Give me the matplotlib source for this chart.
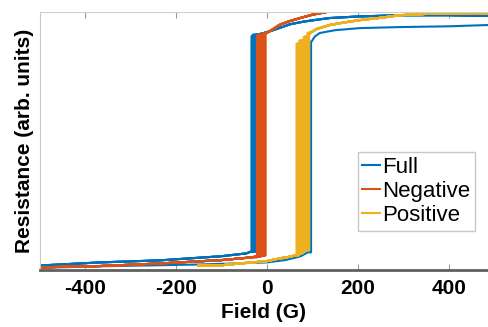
import matplotlib
matplotlib.use("Agg")
import matplotlib.pyplot as plt

plt.rcParams["font.family"] = ["Liberation Sans", "DejaVu Sans"]
plt.rcParams["axes.unicode_minus"] = False

BLUE = "#0072BD"
RED = "#D95319"
YELLOW = "#EDB120"

# Full loop (two lower and two upper branches, field in G, resistance normalised)
full_lo_down_x = [-500, -367, -235, -100, -45, -37, -24]
full_lo_down_y = [0.019, 0.031, 0.039, 0.055, 0.066, 0.072, 0.075]
full_hi_down_x = [-40, -36, -32, -20, -5, 10, 30, 51, 80, 116, 138, 200, 292, 400, 486]
full_hi_down_y = [0.898, 0.902, 0.907, 0.913, 0.920, 0.928, 0.940, 0.953, 0.963, 0.972, 0.977, 0.983, 0.988, 0.988, 0.985]
full_lo_up_x = [-500, -367, -147, 0, 40, 73, 90, 100]
full_lo_up_y = [0.010, 0.016, 0.023, 0.031, 0.040, 0.054, 0.070, 0.075]
full_hi_up_x = [90, 98, 105, 116, 150, 204, 292, 400, 486]
full_hi_up_y = [0.880, 0.886, 0.905, 0.919, 0.930, 0.938, 0.942, 0.945, 0.950]
full_switch_down = [-34, -31, -28, -25]
full_switch_up = [97]

# Negative minor loop
neg_lo_x = [-500, -367, -235, -100, -37, -22, -12, -5, 0]
neg_lo_y = [0.012, 0.017, 0.027, 0.040, 0.050, 0.054, 0.056, 0.058, 0.060]
neg_hi_x = [-25, -20, -10, -2, 10, 29, 50, 73, 100, 130]
neg_hi_y = [0.905, 0.908, 0.912, 0.918, 0.930, 0.952, 0.965, 0.977, 0.990, 1.000]
neg_switch = [-22, -20, -18, -16, -14, -12, -10, -8, -6, -4, -3]

# Positive minor loop
pos_lo_x = [-150, -100, -59, 0, 29, 50, 62, 72, 79, 85, 95]
pos_lo_y = [0.018, 0.020, 0.027, 0.036, 0.047, 0.053, 0.058, 0.066, 0.074, 0.080, 0.085]
pos_hi_x = [60, 64, 70, 80, 88, 95, 110, 138, 170, 204, 250, 292, 350, 400, 486]
pos_hi_y = [0.860, 0.870, 0.878, 0.890, 0.905, 0.920, 0.935, 0.950, 0.960, 0.969, 0.978, 0.988, 0.993, 0.995, 0.996]
pos_switch = [65, 67, 69, 71, 73, 75, 77, 79, 81, 83, 85, 87, 89, 91, 93]


def step_path(lo_x, lo_y, hi_x, hi_y, xs):
    # lower branch left of the switching field, upper branch right of it
    lx = [x for x in lo_x if x < xs]
    ly = [y for x, y in zip(lo_x, lo_y) if x < xs]
    hx = [x for x in hi_x if x > xs]
    hy = [y for x, y in zip(hi_x, hi_y) if x > xs]
    return lx + [xs, xs] + hx, ly + [ly[-1], hy[0]] + hy


fig = plt.figure(figsize=(4.88, 3.27), dpi=100)
ax = fig.add_axes([0.081, 0.173, 0.919, 0.790])

first = True
for xs in full_switch_down:
    px, py = step_path(full_lo_down_x, full_lo_down_y, full_hi_down_x, full_hi_down_y, xs)
    ax.plot(px, py, color=BLUE, lw=1.5, label="Full" if first else None)
    first = False
for xs in full_switch_up:
    px, py = step_path(full_lo_up_x, full_lo_up_y, full_hi_up_x, full_hi_up_y, xs)
    ax.plot(px, py, color=BLUE, lw=1.5)

first = True
for xs in neg_switch:
    px, py = step_path(neg_lo_x, neg_lo_y, neg_hi_x, neg_hi_y, xs)
    ax.plot(px, py, color=RED, lw=1.5, label="Negative" if first else None)
    first = False

first = True
for xs in pos_switch:
    px, py = step_path(pos_lo_x, pos_lo_y, pos_hi_x, pos_hi_y, xs)
    ax.plot(px, py, color=YELLOW, lw=1.5, label="Positive" if first else None)
    first = False

ax.set_xlim(-500, 486)
ax.set_ylim(0, 1.0)
ax.set_xticks([-400, -200, 0, 200, 400])
ax.set_yticks([])
ax.tick_params(axis="x", direction="in", length=4, width=0.8, color="#999999",
               top=True, labelsize=15, pad=6)
for lab in ax.get_xticklabels():
    lab.set_fontweight("bold")

ax.spines["left"].set_color("#c8c8c8")
ax.spines["top"].set_color("#d0d0d0")
ax.spines["right"].set_visible(False)
ax.spines["bottom"].set_color("#606060")
ax.spines["bottom"].set_linewidth(2)

ax.set_xlabel("Field (G)", fontsize=15, fontweight="bold", labelpad=4)
ax.set_ylabel("Resistance (arb. units)", fontsize=15, fontweight="bold", labelpad=4)

leg = ax.legend(loc="upper left", bbox_to_anchor=(0.71, 0.458), borderaxespad=0,
                fontsize=16, handlelength=0.8, handletextpad=0.1, labelspacing=0.15,
                borderpad=0.2, fancybox=False, framealpha=1)
leg.get_frame().set_edgecolor("#c8c8c8")
leg.get_frame().set_linewidth(1)

fig.savefig("out.png", dpi=100)
